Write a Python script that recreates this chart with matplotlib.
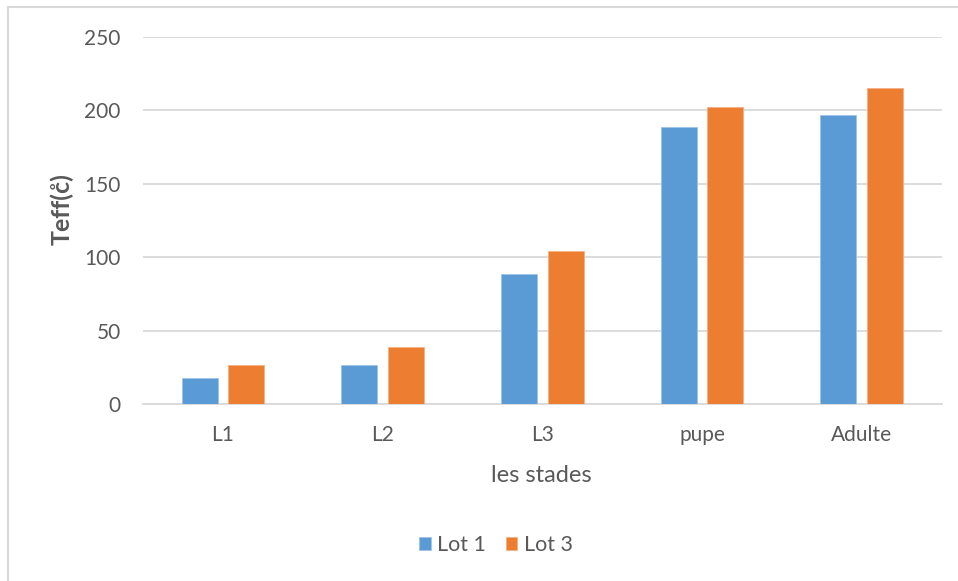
import numpy as np
import matplotlib.pyplot as plt
from matplotlib.lines import Line2D

stades = ["L1", "L2", "L3", "pupe", "Adulte"]
lot1 = [17.5, 26.5, 88.5, 188.5, 197]
lot3 = [26.5, 38.5, 104, 202.5, 215]

BLUE = "#5b9bd5"
ORANGE = "#ed7d31"
GREY_TXT = "#595959"
GRID = "#d9d9d9"

plt.rcParams['font.family'] = ['Lato', 'DejaVu Sans']

W, H = 958, 581
fig = plt.figure(figsize=(W / 100, H / 100), dpi=100)
ax = fig.add_axes([143 / W, 1 - 404 / H, (941.5 - 143) / W, (404 - 37) / H])

x = np.arange(len(stades))
w = 0.225
off = 0.146
ax.bar(x - off, lot1, w, color=BLUE, edgecolor="#9dc3e6", linewidth=0.6, label="Lot 1", zorder=3)
ax.bar(x + off, lot3, w, color=ORANGE, edgecolor="#f4b183", linewidth=0.6, label="Lot 3", zorder=3)

ax.set_xlim(-0.5, len(stades) - 0.5)
ax.set_ylim(0, 250)
ax.set_yticks(range(0, 251, 50))
ax.set_xticks(x)
ax.set_xticklabels(stades)
ax.grid(axis="y", color=GRID, linewidth=1.3, zorder=0)
ax.set_axisbelow(True)

for s in ["top", "right", "left"]:
    ax.spines[s].set_visible(False)
ax.spines["bottom"].set_color(GRID)
ax.spines["bottom"].set_linewidth(1.3)
ax.tick_params(axis="both", length=0, colors=GREY_TXT, labelsize=15)
ax.tick_params(axis="y", pad=16)
ax.tick_params(axis="x", pad=15)

# axis titles placed in pixel terms
fig.text(541 / W, 1 - 475 / H, "les stades", fontsize=17, color=GREY_TXT, ha="center", va="center")
fig.text(62 / W, 1 - 209 / H, "Teff(c\u030a)", fontsize=18, color=GREY_TXT, fontweight="bold",
         rotation=90, ha="center", va="center")

fig.legend(loc="center", bbox_to_anchor=(496 / W, 1 - 545 / H), ncol=2, frameon=False,
           fontsize=15.5, labelcolor=GREY_TXT, handlelength=0.55, handleheight=0.55,
           handletextpad=0.3, columnspacing=0.9)

# chart frame edges (top and left only)
fig.add_artist(Line2D([8 / W, 1], [1 - 7 / H, 1 - 7 / H], color=GRID, linewidth=1.5))
fig.add_artist(Line2D([8 / W, 8 / W], [0, 1 - 7 / H], color=GRID, linewidth=1.5))

fig.savefig("out.png", dpi=100)
